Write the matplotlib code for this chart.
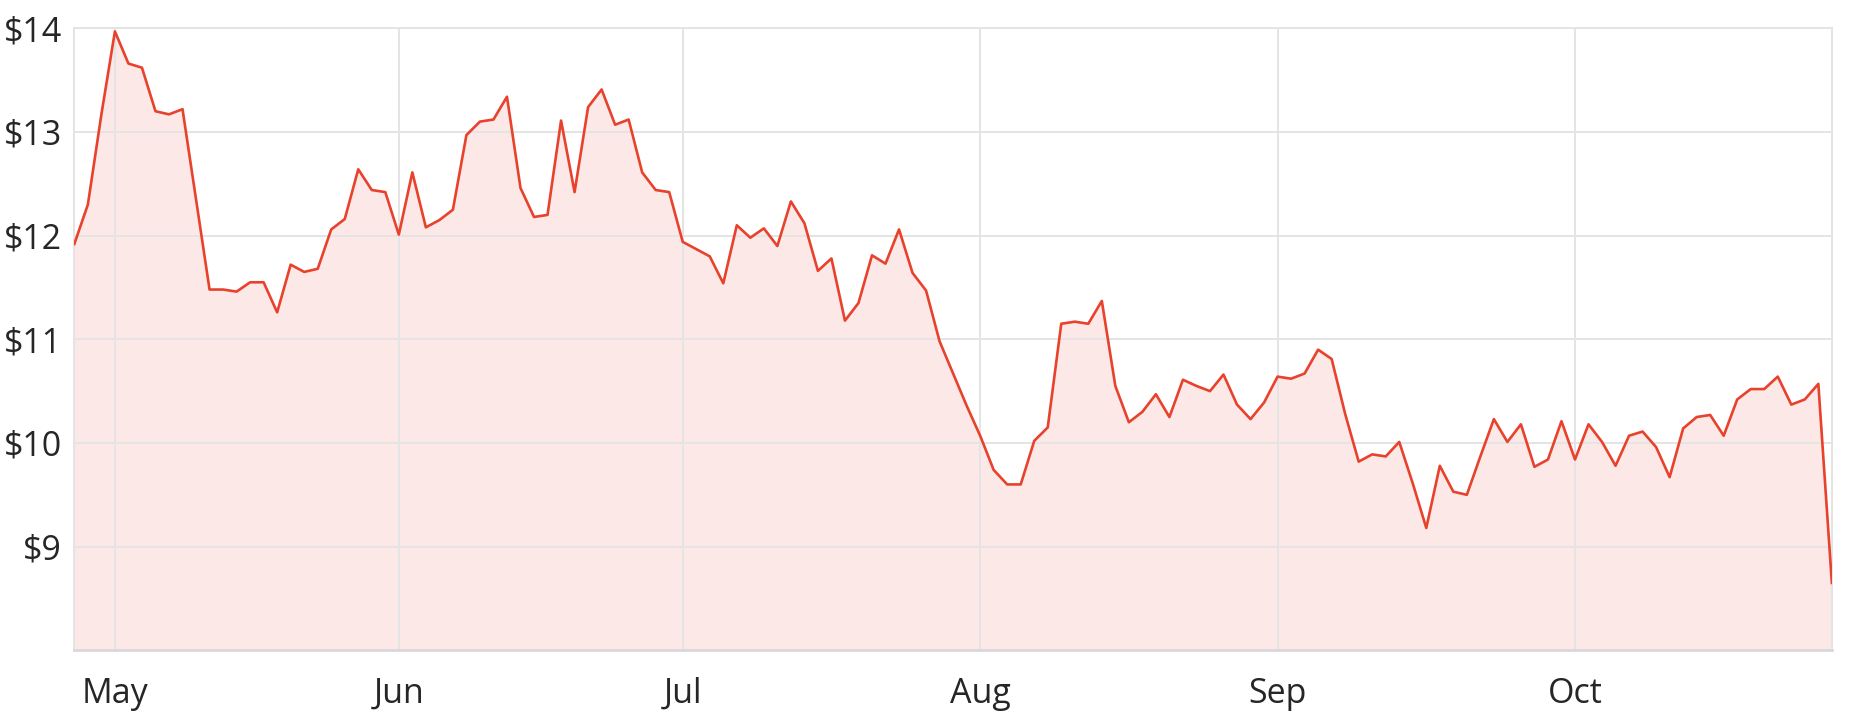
import matplotlib
matplotlib.use('Agg')
import matplotlib.pyplot as plt

# closing prices, one per trading day (late Apr .. end of Oct)
prices = [
    11.92, 12.30, 13.17, 13.97, 13.66, 13.62, 13.20, 13.17, 13.22, 12.35,
    11.48, 11.48, 11.46, 11.55, 11.55, 11.26, 11.72, 11.65, 11.68, 12.06,
    12.16, 12.64, 12.44, 12.42, 12.01, 12.61, 12.08, 12.15, 12.25, 12.97,
    13.10, 13.12, 13.34, 12.46, 12.18, 12.20, 13.11, 12.42, 13.24, 13.41,
    13.07, 13.12, 12.61, 12.44, 12.42, 11.94, 11.87, 11.80, 11.54, 12.10,
    11.98, 12.07, 11.90, 12.33, 12.12, 11.66, 11.78, 11.18, 11.35, 11.81,
    11.73, 12.06, 11.64, 11.47, 10.98, 10.67, 10.36, 10.07, 9.74, 9.60,
    9.60, 10.02, 10.15, 11.15, 11.17, 11.15, 11.37, 10.55, 10.20, 10.30,
    10.47, 10.25, 10.61, 10.55, 10.50, 10.66, 10.37, 10.23, 10.39, 10.64,
    10.62, 10.67, 10.90, 10.81, 10.28, 9.82, 9.89, 9.87, 10.01, 9.61,
    9.18, 9.78, 9.53, 9.50, 9.87, 10.23, 10.01, 10.18, 9.77, 9.84,
    10.21, 9.84, 10.18, 10.01, 9.78, 10.07, 10.11, 9.96, 9.67, 10.14,
    10.25, 10.27, 10.07, 10.42, 10.52, 10.52, 10.64, 10.37, 10.42, 10.57,
    8.65,
]
# first trading day of each month (index into prices)
month_start = [3, 24, 45, 67, 89, 111]
month_labels = ['May', 'Jun', 'Jul', 'Aug', 'Sep', 'Oct']
price_ticks = [9, 10, 11, 12, 13, 14]

line_col = '#e8412c'
text_col = '#262626'
grid_col = '#e4e4e4'

plt.rcParams['font.family'] = ['Open Sans', 'DejaVu Sans']

fig = plt.figure(figsize=(18.59, 7.24), dpi=100)
ax = fig.add_axes([0.040, 0.1018, 0.9454, 0.8591])

x = list(range(len(prices)))
ax.fill_between(x, prices, 8, color=line_col, alpha=0.115, linewidth=0, zorder=1)
ax.plot(x, prices, color=line_col, linewidth=1.9, zorder=3)

ax.set_xlim(0, len(prices) - 1)
ax.set_ylim(8, 14)

ax.set_xticks(month_start)
ax.set_xticklabels(month_labels)
ax.set_yticks(price_ticks)
ax.set_yticklabels(['$%d' % v for v in price_ticks])

ax.grid(True, color=grid_col, linewidth=1.4, zorder=2)
for l in ax.get_xgridlines() + ax.get_ygridlines():
    l.set_zorder(2)

ax.tick_params(length=0, labelsize=24.5, colors=text_col)
ax.tick_params(axis='x', pad=19)
ax.tick_params(axis='y', pad=9)

for side in ['top', 'right', 'left']:
    ax.spines[side].set_color(grid_col)
    ax.spines[side].set_linewidth(1.4)
ax.spines['bottom'].set_color('#d8d8d8')
ax.spines['bottom'].set_linewidth(2.0)

fig.savefig('out.png', dpi=100, facecolor='white')
